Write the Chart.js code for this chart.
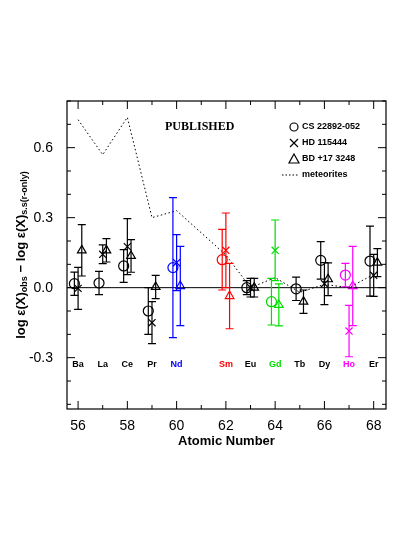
<!DOCTYPE html>
<html><head><meta charset="utf-8">
<script src="https://cdn.jsdelivr.net/npm/chart.js@4/dist/chart.umd.min.js"></script>
<style>body{margin:0;background:#fff}#w{width:402px;height:535px}</style></head>
<body><div id="w"><canvas id="c"></canvas></div>
<script>
const elements=['Ba','La','Ce','Pr','Nd','Sm','Eu','Gd','Tb','Dy','Ho','Er'];
const zvals=[56,57,58,59,60,62,63,64,65,66,67,68];
const elemColors=['#000','#000','#000','#000','#0000ff','#ff0000','#000','#00dd00','#000','#000','#ff00ff','#000'];
const csVals=[0.017,0.02,0.093,-0.10,0.086,0.12,0.0,-0.06,-0.005,0.117,0.054,0.114];
const csErr=[0.05,0.05,0.07,0.10,0.30,0.13,0.03,0.10,0.05,0.08,0.05,0.15];
const hdVals=[-0.003,0.143,0.176,-0.15,0.107,0.16,0.0,0.16,null,0.017,-0.186,0.053];
const hdErr=[0.09,0.04,0.12,0.09,0.12,0.16,0.04,0.13,null,0.09,0.11,0.09];
const bdVals=[0.16,0.16,0.136,0.003,0.007,-0.036,0.0,-0.074,-0.06,0.036,0.007,0.107];
const bdErr=[0.11,0.05,0.07,0.05,0.17,0.14,0.04,0.09,0.05,0.07,0.17,0.06];
const metZ=[56,57,58,59,60,62,63,64,65,66,67,68];
const metVals=[0.72,0.57,0.73,0.30,0.33,0.14,0.0,0.043,-0.02,0.014,0.0,0.057];
const offs=[-0.15,0,0.15];
function mk(vals,off){return vals.map((v,i)=>v===null?null:{x:zvals[i]+off,y:v}).filter(p=>p);}
function cols(vals){return vals.map((v,i)=>elemColors[i]).filter((c,i)=>vals[i]!==null);}
const F='"Liberation Sans",Arial,sans-serif';
const errPlugin={id:'err',afterDatasetsDraw(ch){
 const c=ch.ctx,xs=ch.scales.x,ys=ch.scales.y,a=ch.chartArea;
 c.save();
 c.strokeStyle='#000';c.lineWidth=1;c.beginPath();c.moveTo(a.left,ys.getPixelForValue(0));c.lineTo(a.right,ys.getPixelForValue(0));c.stroke();
 [[csVals,csErr],[hdVals,hdErr],[bdVals,bdErr]].forEach((s,k)=>{
  s[0].forEach((v,i)=>{if(v===null)return;const x=xs.getPixelForValue(zvals[i]+offs[k]);
   const y1=ys.getPixelForValue(v+s[1][i]),y2=ys.getPixelForValue(v-s[1][i]);
   c.strokeStyle=elemColors[i];c.lineWidth=1.2;c.beginPath();
   c.moveTo(x,y1);c.lineTo(x,y2);c.moveTo(x-4,y1);c.lineTo(x+4,y1);c.moveTo(x-4,y2);c.lineTo(x+4,y2);c.stroke();});
 });
 c.font='bold 9px '+F;c.textAlign='center';c.textBaseline='middle';
 elements.forEach((e,i)=>{c.fillStyle=elemColors[i];c.fillText(e,xs.getPixelForValue(zvals[i]),ys.getPixelForValue(-0.33));});
 c.strokeStyle='#000';c.lineWidth=1;c.beginPath();
 for(let z=56;z<=68;z++){const x=xs.getPixelForValue(z),L=z%2==0?8:4;c.moveTo(x,a.bottom);c.lineTo(x,a.bottom-L);c.moveTo(x,a.top);c.lineTo(x,a.top+L);}
 for(let t=-5;t<=8;t++){const y=ys.getPixelForValue(t/10),L=t%3==0?8:4;c.moveTo(a.left,y);c.lineTo(a.left+L,y);c.moveTo(a.right,y);c.lineTo(a.right-L,y);}
 c.stroke();
 c.lineWidth=1.2;c.strokeRect(a.left,a.top,a.right-a.left,a.bottom-a.top);
 c.fillStyle='#000';c.font='bold 12px "Liberation Serif",serif';c.textAlign='left';c.fillText('PUBLISHED',165,127);
 c.font='bold 9px '+F;const lx=290,items=['CS 22892-052','HD 115444','BD +17 3248','meteorites'];
 items.forEach((t,i)=>{const y=127+i*16;c.fillText(t,lx+12,y);c.beginPath();
  if(i==0)c.arc(lx+4,y,4,0,7);
  else if(i==1){c.moveTo(lx,y-4);c.lineTo(lx+8,y+4);c.moveTo(lx,y+4);c.lineTo(lx+8,y-4);}
  else if(i==2){c.moveTo(lx+4,y-5);c.lineTo(lx+9,y+4);c.lineTo(lx-1,y+4);c.closePath();}
  else{c.setLineDash([1.5,2]);c.moveTo(lx-8,y);c.lineTo(lx+9,y);}
  c.stroke();c.setLineDash([]);});
 c.font='bold 13px '+F;c.textAlign='center';c.fillText('Atomic Number',(a.left+a.right)/2,441);
 c.translate(21,(a.top+a.bottom)/2);c.rotate(-Math.PI/2);
 const parts=[['log ε(X)',13,0],['obs',9,4],[' − log ε(X)',13,0],['s.s(r-only)',9,4]];
 let tw=0;parts.forEach(p=>{c.font='bold '+p[1]+'px '+F;tw+=c.measureText(p[0]).width;});
 let px=-tw/2;c.textAlign='left';parts.forEach(p=>{c.font='bold '+p[1]+'px '+F;c.fillText(p[0],px,p[2]);px+=c.measureText(p[0]).width;});
 c.restore();}};
const ptDs=(lab,vals,off,style)=>({type:'scatter',label:lab,data:mk(vals,off),pointStyle:style,pointRadius:5,borderWidth:1.2,
 pointBorderColor:cols(vals),pointBackgroundColor:'rgba(0,0,0,0)',showLine:false});
new Chart(document.getElementById('c'),{
 data:{datasets:[
  {type:'line',label:'meteorites',data:metZ.map((z,i)=>({x:z,y:metVals[i]})),borderColor:'#000',borderWidth:1,borderDash:[1.5,2.5],pointRadius:0,fill:false},
  ptDs('CS 22892-052',csVals,offs[0],'circle'),ptDs('HD 115444',hdVals,offs[1],'crossRot'),ptDs('BD +17 3248',bdVals,offs[2],'triangle')]},
 options:{animation:false,responsive:true,maintainAspectRatio:false,
  layout:{padding:{top:101,right:16,left:0,bottom:0}},
  plugins:{legend:{display:false},tooltip:{enabled:false}},
  scales:{
   x:{type:'linear',min:55.55,max:68.5,afterFit:s=>{s.height=126;},grid:{display:false},border:{display:false},
    ticks:{stepSize:2,autoSkip:false,color:'#000',font:{family:F,size:14},padding:1,callback:v=>Number.isInteger(v)&&v%2==0?v:''},
    afterBuildTicks:s=>{s.ticks=[56,58,60,62,64,66,68].map(v=>({value:v}));}},
   y:{min:-0.52,max:0.8,afterFit:s=>{s.width=67;},grid:{display:false},border:{display:false},
    ticks:{color:'#000',font:{family:F,size:14},padding:6,callback:v=>v==0?'0.0':v.toFixed(1)},
    afterBuildTicks:s=>{s.ticks=[-0.3,0,0.3,0.6].map(v=>({value:v}));}}}},
 plugins:[errPlugin]});
</script></body></html>
